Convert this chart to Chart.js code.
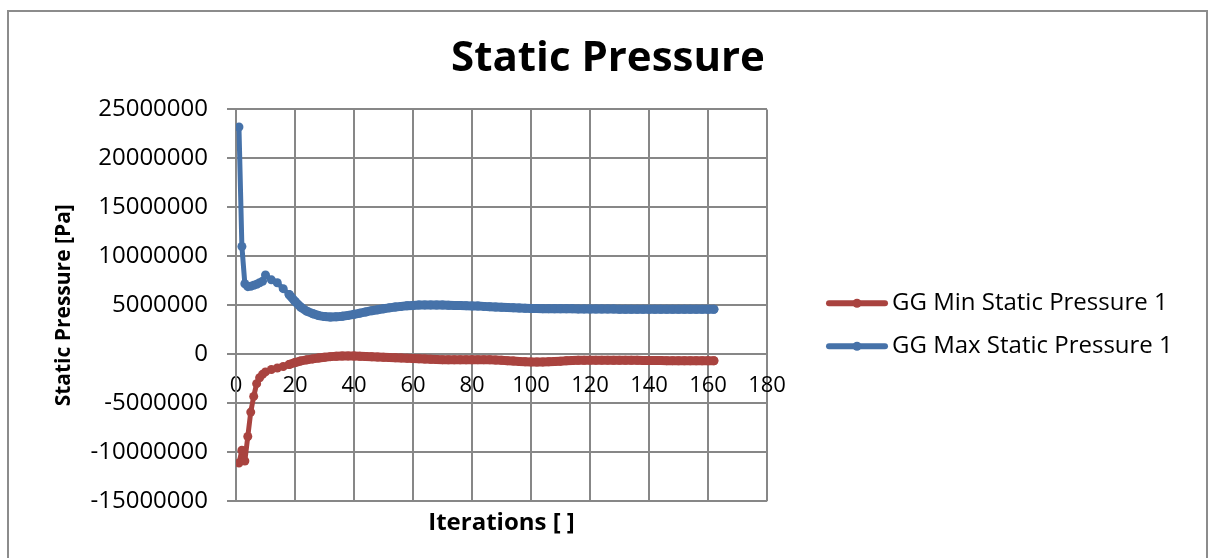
<!DOCTYPE html>
<html>
<head>
<meta charset="utf-8">
<title>Static Pressure</title>
<script src="https://cdn.jsdelivr.net/npm/chart.js@4.4.1/dist/chart.umd.min.js"></script>
<style>
  html, body { margin: 0; padding: 0; background: #ffffff; }
  #wrap { width: 1214px; height: 558px; }
</style>
</head>
<body>
<div id="wrap"><canvas id="chart" width="1214" height="558"></canvas></div>
<script>
// Solver iteration numbers and the pressures recorded at each of them [Pa]
const iterations = [
  1, 2, 3, 4, 5, 6, 7, 8, 9, 10,
  12, 14, 16, 18, 20, 22, 24, 26, 28, 30,
  32, 34, 36, 38, 40, 42, 44, 46, 48, 50,
  52, 54, 56, 58, 60, 62, 64, 66, 68, 70,
  72, 74, 76, 78, 80, 82, 84, 86, 88, 90,
  92, 94, 96, 98, 100, 102, 104, 106, 108, 110,
  112, 114, 116, 118, 120, 122, 124, 126, 128, 130,
  132, 134, 136, 138, 140, 142, 144, 146, 148, 150,
  152, 154, 156, 158, 160, 162
];

const minStaticPressure = [
  -11100000, -9800000, -10900000, -8400000, -5900000, -4300000, -3000000, -2400000, -2050000, -1800000,
  -1550000, -1400000, -1250000, -1050000, -850000, -680000, -570000, -470000, -380000, -300000,
  -240000, -200000, -180000, -170000, -180000, -200000, -230000, -260000, -290000, -310000,
  -330000, -350000, -370000, -400000, -430000, -460000, -490000, -510000, -530000, -550000,
  -560000, -570000, -570000, -570000, -560000, -550000, -550000, -560000, -580000, -610000,
  -650000, -690000, -730000, -760000, -780000, -790000, -780000, -760000, -730000, -700000,
  -670000, -640000, -620000, -610000, -600000, -600000, -600000, -600000, -610000, -610000,
  -620000, -620000, -620000, -630000, -630000, -640000, -640000, -650000, -650000, -660000,
  -660000, -660000, -660000, -660000, -660000, -660000
];

const maxStaticPressure = [
  23200000, 11000000, 7200000, 6900000, 6950000, 7050000, 7150000, 7300000, 7450000, 8100000,
  7600000, 7300000, 6700000, 6100000, 5400000, 4800000, 4400000, 4150000, 3950000, 3850000,
  3800000, 3820000, 3880000, 3970000, 4080000, 4200000, 4320000, 4450000, 4550000, 4650000,
  4740000, 4820000, 4890000, 4950000, 4990000, 5020000, 5040000, 5040000, 5030000, 5020000,
  5000000, 4990000, 4980000, 4960000, 4940000, 4920000, 4890000, 4860000, 4830000, 4800000,
  4770000, 4740000, 4720000, 4700000, 4680000, 4670000, 4660000, 4660000, 4650000, 4650000,
  4640000, 4640000, 4630000, 4630000, 4620000, 4620000, 4610000, 4610000, 4610000, 4600000,
  4600000, 4600000, 4600000, 4600000, 4600000, 4600000, 4600000, 4600000, 4600000, 4600000,
  4600000, 4600000, 4600000, 4600000, 4600000, 4600000
];

const seriesNames = ['GG Min Static Pressure 1', 'GG Max Static Pressure 1'];
const seriesColors = ['#A9433F', '#4672A9'];

// Axis ranges as [min, max, step]
const xTicks = [0, 180, 20];
const yTicks = [-15000000, 25000000, 5000000];

const FONT = "'Open Sans', 'DejaVu Sans', sans-serif";
const GRID = '#878787';

// White page with a thin grey frame round the whole chart
const framePlugin = {
  id: 'frame',
  beforeDraw(chart) {
    const c = chart.ctx;
    c.save();
    c.fillStyle = '#ffffff';
    c.fillRect(0, 0, chart.width, chart.height);
    c.strokeStyle = '#8c8c8c';
    c.lineWidth = 2;
    c.strokeRect(8, 11, 1199, 560);
    c.restore();
  }
};

// Legend to the right of the plot: line with a marker, then the series name
const sideLegend = {
  id: 'sideLegend',
  afterDraw(chart) {
    const c = chart.ctx;
    const area = chart.chartArea;
    const x0 = area.right + 62;
    const yMid = (area.top + area.bottom) / 2;
    c.save();
    chart.data.datasets.forEach((ds, i) => {
      const y = yMid - 2 + i * 43;
      c.strokeStyle = ds.borderColor;
      c.lineWidth = 6;
      c.lineCap = 'round';
      c.beginPath();
      c.moveTo(x0, y);
      c.lineTo(x0 + 56, y);
      c.stroke();
      c.fillStyle = ds.borderColor;
      c.beginPath();
      c.arc(x0 + 28, y, 4.5, 0, Math.PI * 2);
      c.fill();
      c.fillStyle = '#000000';
      c.font = '24px ' + FONT;
      c.textBaseline = 'middle';
      c.textAlign = 'left';
      c.fillText(ds.label, x0 + 63, y);
    });
    c.restore();
  }
};

function series(values, idx) {
  return {
    label: seriesNames[idx],
    data: iterations.map((it, i) => ({ x: it, y: values[i] })),
    showLine: true,
    borderColor: seriesColors[idx],
    backgroundColor: seriesColors[idx],
    pointBackgroundColor: seriesColors[idx],
    pointBorderWidth: 0,
    pointRadius: 4.5,
    borderWidth: 5,
    borderJoinStyle: 'round',
    borderCapStyle: 'round',
    // where the samples sit close together the markers merge into a wider band
    segment: { borderWidth: ctx => (ctx.p0.parsed.x >= 18 ? 9 : 5) },
    tension: 0
  };
}

new Chart(document.getElementById('chart'), {
  type: 'scatter',
  data: {
    datasets: [series(minStaticPressure, 0), series(maxStaticPressure, 1)]
  },
  options: {
    responsive: false,
    animation: false,
    devicePixelRatio: 1,
    layout: { padding: { left: 10, right: 8, top: 12, bottom: 7 } },
    plugins: {
      legend: { display: false },
      tooltip: { enabled: false },
      title: {
        display: true,
        text: 'Static Pressure',
        color: '#000000',
        font: { family: FONT, size: 42, weight: 'bold' },
        padding: { top: 22, bottom: 25 }
      }
    },
    scales: {
      x: {
        type: 'linear',
        position: { y: 0 },
        min: xTicks[0],
        max: xTicks[1],
        ticks: {
          stepSize: xTicks[2],
          color: '#000000',
          font: { family: FONT, size: 22 },
          padding: 18,
          maxRotation: 0,
          autoSkip: false
        },
        grid: { color: GRID, lineWidth: 2, drawTicks: false },
        border: { color: GRID, width: 2 }
      },
      xTitle: {
        type: 'linear',
        position: 'bottom',
        min: xTicks[0],
        max: xTicks[1],
        ticks: { display: false },
        grid: { display: false },
        border: { display: false },
        title: {
          display: true,
          text: 'Iterations [ ]',
          color: '#000000',
          font: { family: FONT, size: 24, weight: 'bold' },
          padding: { top: 0, bottom: 13 }
        }
      },
      y: {
        type: 'linear',
        min: yTicks[0],
        max: yTicks[1],
        ticks: {
          stepSize: yTicks[2],
          color: '#000000',
          font: { family: FONT, size: 24 },
          padding: 19,
          callback: v => String(v)
        },
        grid: { color: GRID, lineWidth: 2, tickLength: 9 },
        border: { color: GRID, width: 2 },
        title: {
          display: true,
          text: 'Static Pressure [Pa]',
          color: '#000000',
          font: { family: FONT, size: 21, weight: 'bold' },
          padding: { top: 41, bottom: 0 }
        },
        afterFit(scale) { scale.width = 226; }
      },
      // empty column on the right that holds the legend
      legendSpace: {
        type: 'linear',
        position: 'right',
        display: true,
        ticks: { display: false },
        grid: { display: false },
        border: { display: false },
        afterFit(scale) { scale.width = 1214 - 8 - 767; }
      }
    }
  },
  plugins: [framePlugin, sideLegend]
});
</script>
</body>
</html>
